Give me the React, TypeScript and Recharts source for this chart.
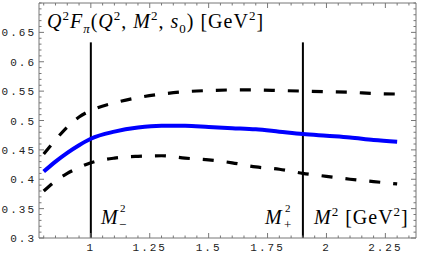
import { LineChart, Line, XAxis, YAxis, ReferenceLine } from "recharts";

const mSquared = [0.8, 0.85, 0.9, 0.95, 1.0, 1.1, 1.2, 1.3, 1.4, 1.5, 1.6, 1.7, 1.8, 1.9, 2.0, 2.1, 2.2, 2.3];
const central = [0.413, 0.43, 0.445, 0.458, 0.469, 0.481, 0.488, 0.491, 0.491, 0.489, 0.487, 0.485, 0.481, 0.477, 0.474, 0.471, 0.467, 0.464];
const upper = [0.443, 0.467, 0.489, 0.506, 0.517, 0.53, 0.539, 0.545, 0.549, 0.551, 0.552, 0.552, 0.551, 0.55, 0.549, 0.548, 0.546, 0.545];
const lower = [0.38, 0.397, 0.41, 0.42, 0.428, 0.436, 0.439, 0.44, 0.436, 0.433, 0.428, 0.421, 0.417, 0.41, 0.405, 0.4, 0.396, 0.392];

const xMajor = [1, 1.25, 1.5, 1.75, 2, 2.25];
const xMajorLabels = ["1", "1.25", "1.5", "1.75", "2", "2.25"];
const yMajor = [0.3, 0.35, 0.4, 0.45, 0.5, 0.55, 0.6, 0.65];
const yMajorLabels = ["0.3", "0.35", "0.4", "0.45", "0.5", "0.55", "0.6", "0.65"];

const mMinus = 1.0;
const mPlus = 1.9;

// minor ticks (frame style)
const xTicks: number[] = [];
for (let i = 16; i <= 47; i++) xTicks.push(Math.round(i * 5) / 100);
const yTicks: number[] = [];
for (let i = 30; i <= 70; i++) yTicks.push(i / 100);

const data = mSquared.map((m, i) => ({ m, central: central[i], upper: upper[i], lower: lower[i] }));

const frame = "#777";
const tickFont = "'Liberation Mono', 'DejaVu Sans Mono', monospace";

const isMajor = (v: number, list: number[]) => list.some((t) => Math.abs(t - v) < 1e-6);
const labelOf = (v: number, list: number[], labels: string[]) => {
  const i = list.findIndex((t) => Math.abs(t - v) < 1e-6);
  return i >= 0 ? labels[i] : "";
};

const BottomTick = (props: any) => {
  const { x, y, payload } = props;
  const major = isMajor(payload.value, xMajor);
  return (
    <g>
      <line x1={x} y1={y} x2={x} y2={y - (major ? 5 : 2.5)} stroke={frame} strokeWidth={1} />
      <text x={x} y={y + 13} textAnchor="middle" fontFamily={tickFont} fontSize={11} letterSpacing={2} fill="#222">
        {labelOf(payload.value, xMajor, xMajorLabels)}
      </text>
    </g>
  );
};

const TopTick = (props: any) => {
  const { x, y, payload } = props;
  const major = isMajor(payload.value, xMajor);
  return <line x1={x} y1={y} x2={x} y2={y + (major ? 5 : 2.5)} stroke={frame} strokeWidth={1} />;
};

const LeftTick = (props: any) => {
  const { x, y, payload } = props;
  const major = isMajor(payload.value, yMajor);
  return (
    <g>
      <line x1={x} y1={y} x2={x + (major ? 5 : 2.5)} y2={y} stroke={frame} strokeWidth={1} />
      <text x={x - 3} y={y + 4} textAnchor="end" fontFamily={tickFont} fontSize={11} letterSpacing={2} fill="#222">
        {labelOf(payload.value, yMajor, yMajorLabels)}
      </text>
    </g>
  );
};

const RightTick = (props: any) => {
  const { x, y, payload } = props;
  const major = isMajor(payload.value, yMajor);
  return <line x1={x} y1={y} x2={x - (major ? 5 : 2.5)} y2={y} stroke={frame} strokeWidth={1} />;
};

const serif = "'Liberation Serif', 'DejaVu Serif', serif";
const sup = { fontSize: 13, verticalAlign: "super", lineHeight: 0 } as const;
const sub = { fontSize: 13, verticalAlign: "sub", lineHeight: 0 } as const;
const txt = { position: "absolute", fontFamily: serif, fontSize: 20, lineHeight: 1, whiteSpace: "nowrap", color: "#000", letterSpacing: 1 } as const;
const supBox = { position: "absolute", fontFamily: serif, fontSize: 11, lineHeight: "12px", height: 12, color: "#000" } as const;
const subBox = { position: "absolute", fontFamily: serif, fontSize: 13, lineHeight: "12px", height: 12, color: "#000" } as const;

export default function App() {
  return (
    <div style={{ position: "absolute", left: 0, top: 0, width: 423, height: 254, background: "#fff" }}>
      <LineChart width={423} height={254} data={data} margin={{ top: 0, right: 0, left: 0, bottom: 0 }}>
        <XAxis
          dataKey="m"
          type="number"
          domain={[0.78, 2.38]}
          ticks={xTicks}
          interval={0}
          allowDataOverflow
          height={16}
          tickSize={0}
          tickMargin={0}
          tick={<BottomTick />}
          tickLine={false}
          axisLine={{ stroke: frame }}
        />
        <XAxis
          xAxisId="top"
          orientation="top"
          dataKey="m"
          type="number"
          domain={[0.78, 2.38]}
          ticks={xTicks}
          interval={0}
          allowDataOverflow
          height={3}
          tickSize={0}
          tickMargin={0}
          tick={<TopTick />}
          tickLine={false}
          axisLine={{ stroke: frame }}
        />
        <YAxis
          type="number"
          domain={[0.3, 0.7]}
          ticks={yTicks}
          interval={0}
          allowDataOverflow
          width={39}
          tickSize={0}
          tickMargin={0}
          tick={<LeftTick />}
          tickLine={false}
          axisLine={{ stroke: frame }}
        />
        <YAxis
          yAxisId="right"
          orientation="right"
          type="number"
          domain={[0.3, 0.7]}
          ticks={yTicks}
          interval={0}
          allowDataOverflow
          width={7}
          tickSize={0}
          tickMargin={0}
          tick={<RightTick />}
          tickLine={false}
          axisLine={{ stroke: frame }}
        />
        <ReferenceLine segment={[{ x: mMinus, y: 0.3 }, { x: mMinus, y: 0.633 }]} stroke="#000" strokeWidth={2} />
        <ReferenceLine segment={[{ x: mPlus, y: 0.3 }, { x: mPlus, y: 0.633 }]} stroke="#000" strokeWidth={2} />
        <Line type="monotone" dataKey="upper" stroke="#000" strokeWidth={3.2} strokeDasharray="11 13" dot={false} isAnimationActive={false} />
        <Line type="monotone" dataKey="lower" stroke="#000" strokeWidth={3.2} strokeDasharray="11 13" dot={false} isAnimationActive={false} />
        <Line type="monotone" dataKey="central" stroke="#0000ff" strokeWidth={4} dot={false} isAnimationActive={false} />
      </LineChart>

      <div style={{ ...txt, left: 101, top: 207 }}><i>M</i></div>
      <div style={{ ...supBox, left: 120, top: 202 }}>2</div>
      <div style={{ ...subBox, left: 119, top: 219 }}>−</div>

      <div style={{ ...txt, left: 265, top: 207 }}><i>M</i></div>
      <div style={{ ...supBox, left: 285, top: 202 }}>2</div>
      <div style={{ ...subBox, left: 284, top: 219 }}>+</div>

      <div style={{ ...txt, left: 314, top: 207 }}>
        <i>M</i><span style={sup}>2</span> [GeV<span style={sup}>2</span>]
      </div>

      <div style={{ ...txt, left: 47, top: 11 }}>
        <i>Q</i><span style={sup}>2</span><i>F</i><span style={sub}><i>π</i></span>(<i>Q</i><span style={sup}>2</span>, <i>M</i><span style={sup}>2</span>, <i>s</i><span style={sub}>0</span>) [GeV<span style={sup}>2</span>]
      </div>
    </div>
  );
}
